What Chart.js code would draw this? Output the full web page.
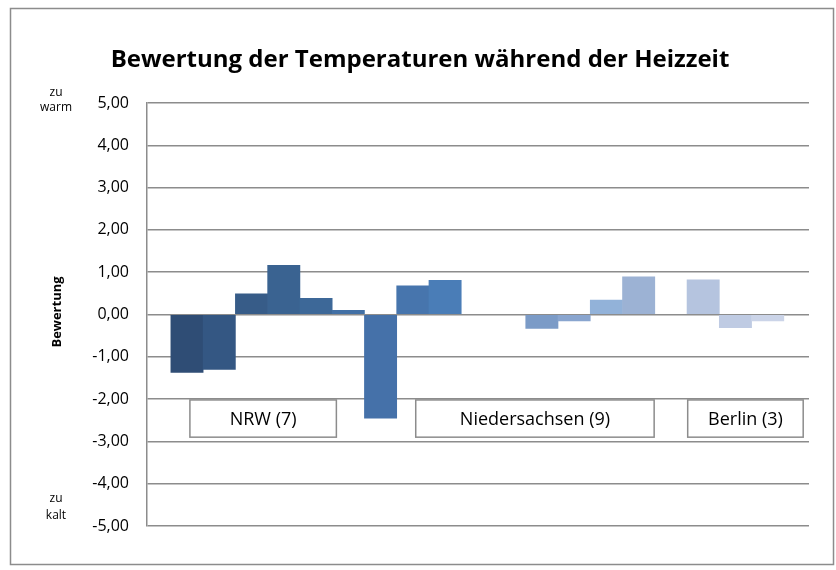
<!DOCTYPE html>
<html>
<head>
<meta charset="utf-8">
<script src="https://cdn.jsdelivr.net/npm/chart.js@4"></script>
<style>
  html, body { margin: 0; padding: 0; background: #fff; }
  #wrap { width: 836px; height: 570px; }
</style>
</head>
<body>
<div id="wrap"><canvas id="myChart" width="836" height="570"></canvas></div>
<script>
// one value per school, empty slots stay null
let values = [-1.37, -1.30, 0.49, 1.16, 0.38, 0.10, -2.45, 0.68, 0.81,
  null, null, -0.33, -0.15, 0.34, 0.89, null, 0.82, -0.31, -0.15];
let colorHex = ['#2F4D75', '#345783', '#375C88', '#3A6391', '#3D6898', '#4270A5', '#4571A9',
  '#4775AD', '#4A7DB7', '#ffffff', '#ffffff', '#7B9BC7', '#89A5CF', '#92B2D9', '#9CB2D4',
  '#ffffff', '#B5C4DF', '#BFCBE3', '#CBD4E8'];
let groupLabels = ['NRW (7)', 'Niedersachsen (9)', 'Berlin (3)'];
let groupFrom = [0.09, 7.09, 15.52];
let groupTo = [4.63, 14.48, 19.1];
let yTicks = [5, 4, 3, 2, 1, 0, -1, -2, -3, -4, -5];

let ctx = document.getElementById('myChart').getContext('2d');
const FONT = '"Open Sans", "Noto Sans", sans-serif';

// frame, title, side notes and the group boxes
const extras = {
  id: 'extras',
  beforeDraw(chart) {
    const c = chart.ctx;
    c.save();
    c.fillStyle = '#fff';
    c.fillRect(0, 0, chart.width, chart.height);
    c.strokeStyle = '#8c8c8c';
    c.lineWidth = 1.5;
    c.strokeRect(10.5, 8.5, 823, 556);
    c.restore();
  },
  afterDatasetsDraw(chart) {
    const c = chart.ctx;
    const xs = chart.scales.x, ys = chart.scales.y;
    c.save();
    c.fillStyle = '#000';
    c.textAlign = 'center';
    c.textBaseline = 'middle';
    c.font = 'bold 24px ' + FONT;
    c.fillText('Bewertung der Temperaturen während der Heizzeit', 420, 60);

    c.font = '12px ' + FONT;
    c.fillText('zu', 56, 93);
    c.fillText('warm', 56, 108);
    c.fillText('zu', 56, 499);
    c.fillText('kalt', 56, 516);

    c.save();
    c.translate(57, 312);
    c.rotate(-Math.PI / 2);
    c.font = 'bold 13px ' + FONT;
    c.fillText('Bewertung', 0, 0);
    c.restore();

    const top = ys.getPixelForValue(-2.02), bot = ys.getPixelForValue(-2.9);
    c.font = '18px ' + FONT;
    groupLabels.forEach((lab, i) => {
      const l = xs.getPixelForValue(groupFrom[i]);
      const r = xs.getPixelForValue(groupTo[i]);
      c.fillStyle = '#fff';
      c.fillRect(l, top, r - l, bot - top);
      c.strokeStyle = '#8c8c8c';
      c.lineWidth = 1.5;
      c.strokeRect(l, top, r - l, bot - top);
      c.fillStyle = '#000';
      c.fillText(lab, (l + r) / 2, (top + bot) / 2 + 1);
    });
    c.restore();
  }
};

let myChart = new Chart(ctx, {
  type: 'bar',
  data: {
    datasets: [{
      data: values.map((v, i) => ({ x: i, y: v })),
      backgroundColor: colorHex,
      borderWidth: 0,
      barPercentage: 1,
      categoryPercentage: 1
    }]
  },
  options: {
    responsive: false,
    animation: false,
    layout: { padding: { top: 103, right: 27, bottom: 44, left: 0 } },
    plugins: {
      legend: { display: false },
      title: { display: false },
      tooltip: { enabled: false }
    },
    scales: {
      x: {
        type: 'linear',
        min: -1.24,
        max: 19.28,
        offset: false,
        grid: { offset: false },
        display: false
      },
      y: {
        min: -5,
        max: 5,
        afterFit: (scale) => { scale.width = 147; },
        afterBuildTicks: (scale) => { scale.ticks = yTicks.map(v => ({ value: v })); },
        border: { color: '#8c8c8c', width: 1.5 },
        grid: { color: '#8c8c8c', lineWidth: 1.5, drawTicks: false },
        ticks: {
          padding: 18,
          color: '#000',
          font: { family: FONT, size: 16 },
          callback: (v) => v.toFixed(2).replace('.', ',')
        }
      }
    }
  },
  plugins: [extras]
});
</script>
</body>
</html>
